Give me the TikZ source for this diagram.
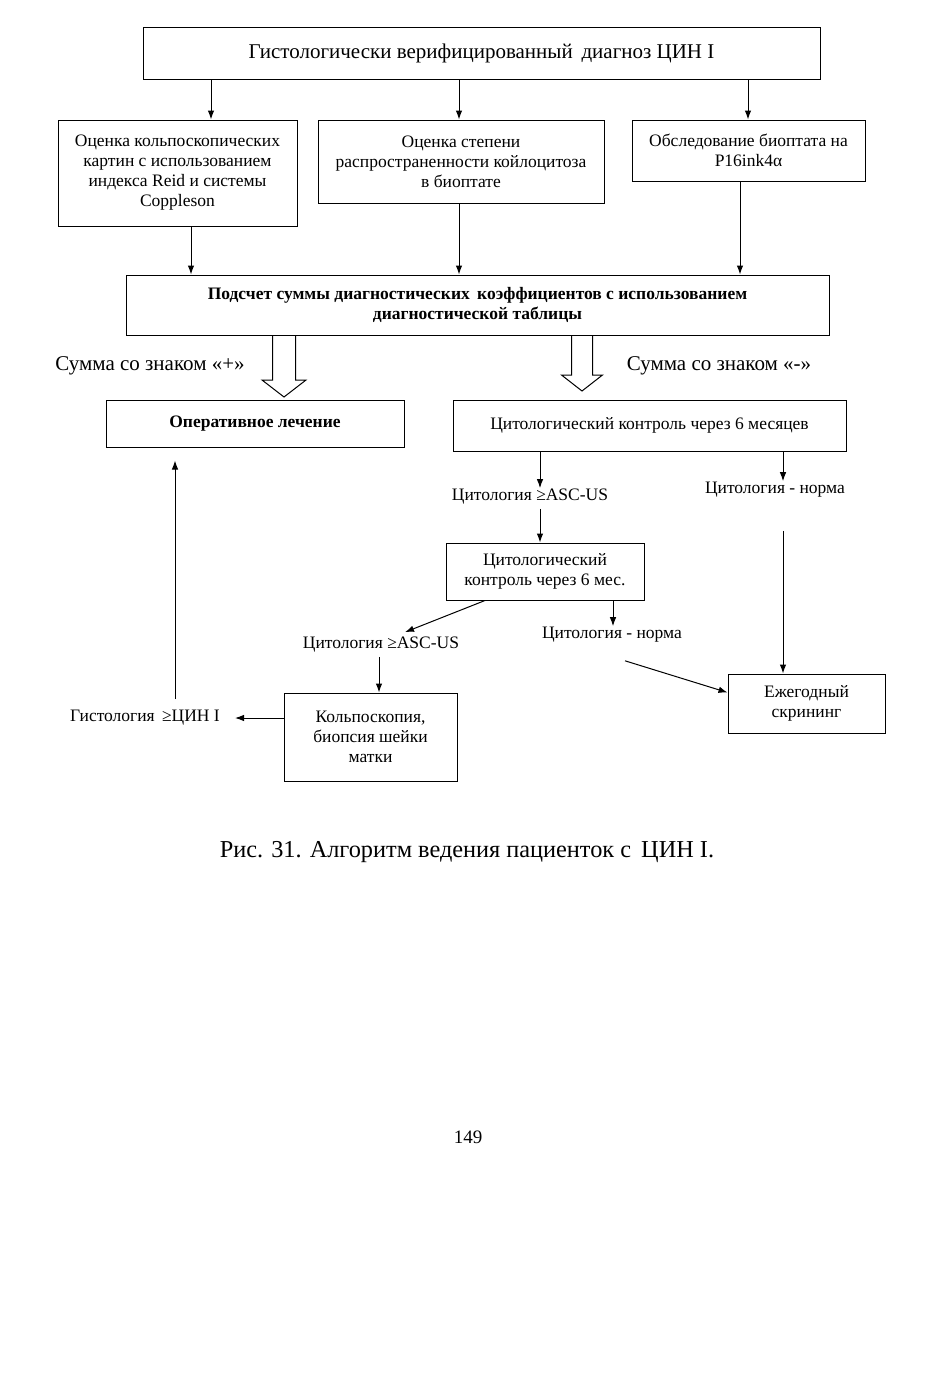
\documentclass[tikz,border=0pt]{standalone}
\usepackage{fontspec}
\setmainfont{Liberation Serif}
\usetikzlibrary{arrows.meta}

\newcommand\boxfont{\fontsize{17.5}{20}\selectfont}
\newcommand\bigfont{\fontsize{21}{24}\selectfont}

\begin{document}
\begin{tikzpicture}
[
x=1pt,y=-1pt,
flowbox/.style={draw,line width=1pt,align=center,inner sep=2pt,font=\boxfont},
flowlabel/.style={align=center,inner sep=1pt,font=\boxfont},
flowpath/.style={black,line width=1pt,->,>={Latex[length=9pt,width=6.5pt]},draw},
hollowpath/.style={black,line width=1pt,draw,fill=white,line join=miter}
]
\useasboundingbox (0,0) rectangle (941,1384);

% top level
\node[flowbox,font=\bigfont,minimum width=677pt,minimum height=52pt] (diag) at (481.5,53)
  {Гистологически верифицированный\, диагноз ЦИН I};

\node[flowbox,minimum width=239pt,minimum height=106pt] (kolpo) at (177.5,173)
  {Оценка кольпоскопических\\картин с использованием\\индекса Reid и системы\\Coppleson};
\node[flowbox,minimum width=286pt,minimum height=83pt] (koilo) at (461,161.5)
  {Оценка степени\\распространенности койлоцитоза\\в биоптате};
\node[flowbox,minimum width=233pt,minimum height=61pt] (p16) at (748.5,150.5)
  {Обследование биоптата на\\P16ink4α};

\draw[flowpath] (diag.south -| 211,0) -- (kolpo.north -| 211,0);
\draw[flowpath] (diag.south -| 459,0) -- (koilo.north -| 459,0);
\draw[flowpath] (diag.south -| 748,0) -- (p16.north -| 748,0);

% summing
\node[flowbox,font=\boxfont\bfseries,minimum width=703pt,minimum height=60pt] (summa) at (477.5,305)
  {Подсчет суммы диагностических\, коэффициентов с использованием\\диагностической таблицы};

\draw[flowpath] (kolpo.south -| 191,0) -- (summa.north -| 191,0);
\draw[flowpath] (koilo.south -| 459,0) -- (summa.north -| 459,0);
\draw[flowpath] (p16.south -| 740,0) -- (summa.north -| 740,0);

\foreach \x/\t/\b/\s/\w in {284/397/380/11.5/22,582/391/375/10.5/20.5} {
  \draw[hollowpath] (\x-\s,336) -- (\x-\s,\b) -- (\x-\w,\b) -- (\x,\t)
    -- (\x+\w,\b) -- (\x+\s,\b) -- (\x+\s,336);
}
\node[flowlabel,font=\bigfont] (plus) at (150,366) {Сумма со знаком «+»};
\node[flowlabel,font=\bigfont] (minus) at (719,366) {Сумма со знаком «-»};

\node[flowbox,font=\boxfont\bfseries,minimum width=298pt,minimum height=47pt] (oper) at (255,423.5)
  {Оперативное лечение};
\node[flowbox,minimum width=393pt,minimum height=51pt] (ctrla) at (649.5,425.5)
  {Цитологический контроль через 6 месяцев};

% follow up
\node[flowlabel] (asca) at (530,497) {Цитология ≥ASC-US};
\node[flowlabel] (norma) at (775,490) {Цитология - норма};
\draw[flowpath] (ctrla.south -| 540,0) -- (asca.north -| 540,0);
\draw[flowpath] (ctrla.south -| 783,0) -- (norma.north -| 783,0);

\node[flowbox,minimum width=198pt,minimum height=57pt] (ctrlb) at (545,571.5)
  {Цитологический\\контроль через 6 мес.};
\draw[flowpath] ([yshift=-3pt]asca.south -| 540,0) -- (ctrlb.north -| 540,0);

\node[flowlabel] (ascb) at (381,645) {Цитология ≥ASC-US};
\node[flowlabel] (normb) at (612,635) {Цитология - норма};
\draw[flowpath] (ctrlb.south -| 485,0) -- ([xshift=24pt,yshift=4pt]ascb.north);
\draw[flowpath] (ctrlb.south -| 613,0) -- (normb.north -| 613,0);

\node[flowbox,minimum width=157pt,minimum height=59pt] (screen) at (806.5,703.5)
  {Ежегодный\\скрининг};
\draw[flowpath] ([yshift=-32pt]norma.south -| 783,0) -- (screen.north -| 783,0);
\draw[flowpath] ([xshift=13pt,yshift=-17pt]normb.south) -- ([yshift=11pt]screen.west);

\node[flowbox,minimum width=173pt,minimum height=88pt] (colpo) at (370.5,737)
  {Кольпоскопия,\\биопсия шейки\\матки};
\draw[flowpath] ([yshift=-3pt]ascb.south -| 379,0) -- (colpo.north -| 379,0);

\node[flowlabel] (hist) at (145,718) {Гистология\, ≥ЦИН I};
\draw[flowpath] (colpo.west |- hist) -- ([xshift=14pt]hist.east);
\draw[flowpath] ([yshift=10pt]hist.north -| 175,0) -- ([yshift=-13pt]oper.south -| 175,0);

% caption
\node[font=\fontsize{24.3}{28}\selectfont] (caption) at (467,852)
  {Рис. 31. Алгоритм ведения пациенток с\, ЦИН I.};
\node[font=\fontsize{19}{22}\selectfont] (page) at (468,1137) {149};
\end{tikzpicture}
\end{document}
